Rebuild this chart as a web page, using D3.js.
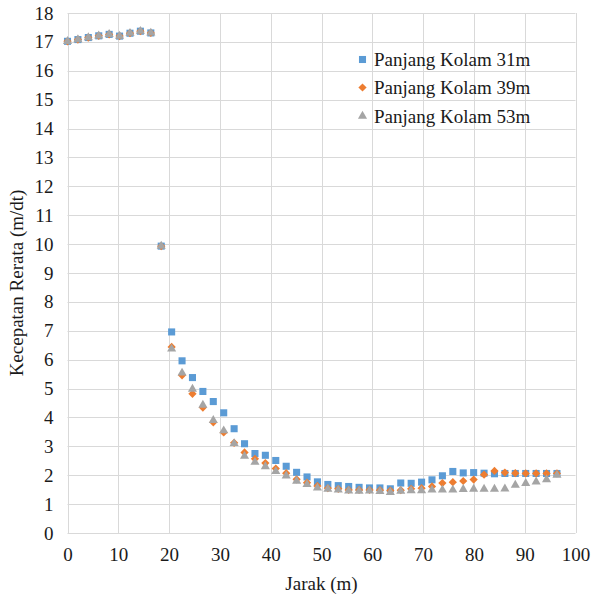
<!DOCTYPE html>
<html><head><meta charset="utf-8">
<script src="https://cdn.jsdelivr.net/npm/d3@7"></script>
<style>
body{margin:0;background:#fff}
svg{display:block}
svg text{font-family:"Liberation Serif",serif !important;font-size:19px !important;fill:#1a1a1a}
</style>
</head><body><svg id="c" width="592" height="598" style="font-family:'Liberation Serif',serif"></svg>
<script>
const jarak = [0,2.05,4.1,6.15,8.2,10.25,12.3,14.35,16.4,18.45,20.5,22.55,24.6,26.65,28.7,30.75,32.8,34.85,36.9,38.95,41,43.05,45.1,47.15,49.2,51.25,53.3,55.35,57.4,59.45,61.5,63.55,65.6,67.65,69.7,71.75,73.8,75.85,77.9,79.95,82,84.05,86.1,88.15,90.2,92.25,94.3,96.35];
const kolam31 = [17.02,17.08,17.15,17.21,17.26,17.2,17.3,17.37,17.31,9.93,6.96,5.96,5.38,4.9,4.55,4.16,3.61,3.09,2.75,2.69,2.51,2.31,2.1,1.94,1.77,1.68,1.64,1.61,1.58,1.56,1.56,1.53,1.73,1.72,1.76,1.84,1.98,2.13,2.08,2.09,2.07,2.05,2.06,2.06,2.06,2.06,2.06,2.06];
const kolam39 = [17.02,17.08,17.15,17.21,17.26,17.2,17.3,17.37,17.31,9.93,6.44,5.46,4.82,4.34,3.83,3.48,3.12,2.79,2.57,2.42,2.23,2.07,1.86,1.74,1.63,1.55,1.53,1.49,1.49,1.49,1.48,1.47,1.48,1.53,1.55,1.61,1.73,1.76,1.8,1.85,2.02,2.15,2.09,2.07,2.06,2.06,2.06,2.06];
const kolam53 = [17.02,17.08,17.15,17.21,17.26,17.2,17.3,17.37,17.31,9.93,6.37,5.54,4.98,4.43,3.9,3.54,3.1,2.66,2.45,2.3,2.13,1.98,1.8,1.68,1.56,1.52,1.49,1.46,1.45,1.46,1.44,1.41,1.45,1.47,1.47,1.49,1.49,1.49,1.51,1.52,1.52,1.52,1.53,1.66,1.72,1.77,1.85,2.0];
const seriesNames = ["Panjang Kolam 31m","Panjang Kolam 39m","Panjang Kolam 53m"];
const xTicks = [0,10,20,30,40,50,60,70,80,90,100];
const yTicks = [0,1,2,3,4,5,6,7,8,9,10,11,12,13,14,15,16,17,18];

const svg = d3.select("#c");
const L=67.5, R=575.5, T=13, B=533;
const x = d3.scaleLinear().domain([0,100]).range([L,R]);
const y = d3.scaleLinear().domain([0,18]).range([B,T]);
function styleText(sel){ sel.attr("font-family",null).attr("font-size",null).style("font-family","serif").attr("fill","#1a1a1a"); }

const g = svg.append("g");
g.selectAll(".hg").data(yTicks).join("line")
  .attr("x1",L).attr("x2",R).attr("y1",d=>Math.round(y(d))+0.5).attr("y2",d=>Math.round(y(d))+0.5)
  .attr("stroke","#d9d9d9").attr("stroke-width",1);
g.selectAll(".vg").data(xTicks).join("line")
  .attr("y1",T).attr("y2",B).attr("x1",d=>Math.round(x(d))+0.5).attr("x2",d=>Math.round(x(d))+0.5)
  .attr("stroke","#d9d9d9").attr("stroke-width",1);

const xa = svg.append("g").attr("transform",`translate(0,${B})`)
  .call(d3.axisBottom(x).tickValues(xTicks).tickSize(0).tickPadding(15).tickFormat(d3.format("d")));
xa.attr("font-family",null).attr("font-size",null);
xa.select(".domain").remove();
styleText(xa.selectAll("text"));
const ya = svg.append("g").attr("transform",`translate(${L},0)`)
  .call(d3.axisLeft(y).tickValues(yTicks).tickSize(0).tickPadding(14).tickFormat(d3.format("d")));
ya.attr("font-family",null).attr("font-size",null);
ya.select(".domain").remove();
styleText(ya.selectAll("text"));

styleText(svg.append("text").attr("x",(L+R)/2).attr("y",590).attr("text-anchor","middle").text("Jarak (m)"));
styleText(svg.append("text").attr("transform",`translate(23,${(T+B)/2+10}) rotate(-90)`).attr("text-anchor","middle")
  .text("Kecepatan Rerata (m/dt)"));

const colors = ["#5b9bd5","#ed7d31","#a5a5a5"];
const syms = [
  d3.symbol().type(d3.symbolSquare).size(50),
  d3.symbol().type(d3.symbolSquare).size(34),
  d3.symbol().type(d3.symbolTriangle).size(36)
];
const rots = [0,45,0];
const allSeries = [kolam31,kolam39,kolam53];
allSeries.forEach((vals,si)=>{
  svg.append("g").selectAll("path").data(vals).join("path")
    .attr("d",syms[si]())
    .attr("transform",(d,i)=>`translate(${x(jarak[i])},${y(d)}) rotate(${rots[si]})`)
    .attr("fill",colors[si]);
});

const legY = [59.5,87.5,116];
seriesNames.forEach((n,i)=>{
  svg.append("path").attr("d",syms[i]()).attr("fill",colors[i])
    .attr("transform",`translate(362.5,${legY[i]}) rotate(${rots[i]})`);
  styleText(svg.append("text").attr("x",374).attr("y",legY[i]).attr("dy","0.35em").text(n));
});
</script></body></html>
